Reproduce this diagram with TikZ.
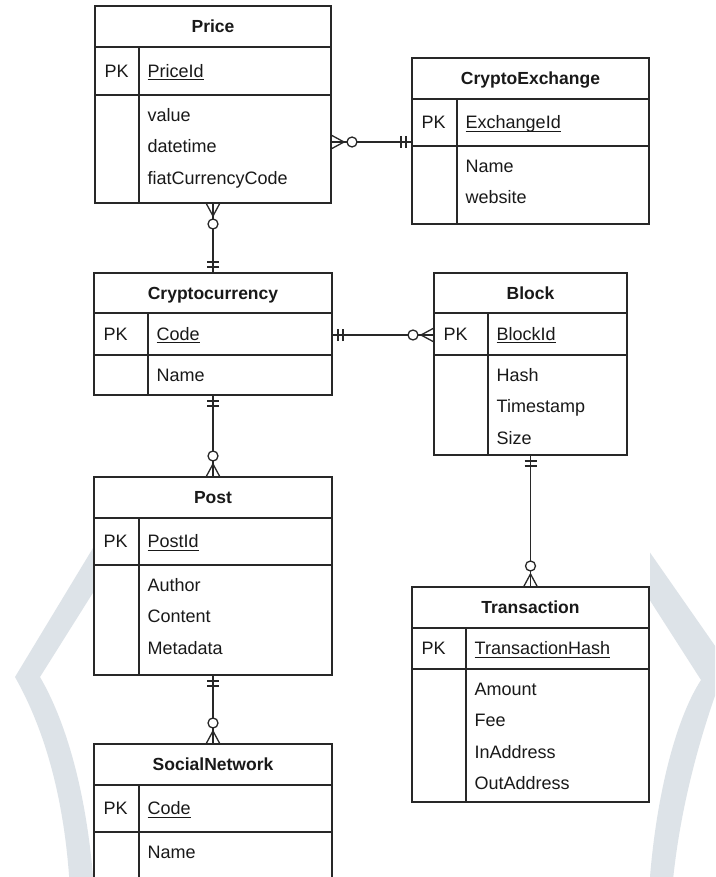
\documentclass[tikz,border=0pt]{standalone}
\usepackage{fontspec}
\setmainfont{Liberation Sans}
\usetikzlibrary{decorations.markings}
\definecolor{wm}{RGB}{221,227,232}
\definecolor{linecol}{RGB}{40,40,40}
\definecolor{textcol}{RGB}{25,25,25}
\newcommand\pkul[1]{\setbox0\hbox{#1}\rlap{\rule[-3pt]{\wd0}{1pt}}\box0}
\newcommand\ertable[9]{%
  \def\curname{#1}\def\curL{#2}\def\curdiv{#8}\def\curpkB{#7}\def\curtB{#6}%
  \pgfmathsetmacro\tw{#4-#2}\pgfmathsetmacro\th{#5-#3}%
  \node[tblbox, anchor=north west, minimum width=\tw pt, minimum height=\th pt] (#1) at (#2,#3) {};
  \draw[tblline] (#1.west |- 0,#6) -- (#1.east |- 0,#6);
  \draw[tblline] (#1.west |- 0,#7) -- (#1.east |- 0,#7);
  \draw[tblline] (#8,#6) -- (#8,#5);
  \node[ttl] (#1-title) at ({(#2+#4)/2},{(#3+#6)/2}) {#9};
}
\newcommand\erfields[2]{%
  \node[txt, anchor=west] (\curname-pk) at ({\curL+9.5},{(\curtB+\curpkB)/2}) {PK};
  \node[txt, anchor=west] (\curname-key) at ({\curdiv+8.5},{(\curtB+\curpkB)/2}) {\pkul{#1}};
  \foreach \a [count=\i from 0] in {#2} {
    \node[txt, anchor=west] (\curname-a\i) at ({\curdiv+8.5},{\curpkB+20+\i*31.5}) {\a};
  }
}
\begin{document}
\begin{tikzpicture}[x=1pt, y=-1pt,
  tblbox/.style={draw=linecol, line width=1.6pt, fill=white, inner sep=0pt, outer sep=0pt},
  tblline/.style={draw=linecol, line width=1.6pt},
  txt/.style={inner sep=0pt, text height=12.8pt, text depth=0pt, font=\fontsize{18}{21}\selectfont, text=textcol},
  ttl/.style={txt, font=\bfseries\fontsize{17.5}{20}\selectfont},
  rel/.style={color=linecol, line width=1.3pt, postaction={decorate}, decoration={markings,
    mark=at position 0.0001 with {\draw[line width=1.3pt] (6pt,-6pt) -- (6pt,6pt) (11pt,-6pt) -- (11pt,6pt);},
    mark=at position 0.9999 with {\draw[line width=1.3pt] (-13pt,0pt) -- (0pt,7pt) (-13pt,0pt) -- (0pt,-7pt); \draw[line width=1.3pt, fill=white] (-21pt,0pt) circle (5pt);}}}
]
\useasboundingbox (0,0) rectangle (715,877);
\clip (0,0) rectangle (715,877);
\fill[white] (0,0) rectangle (715,877);
% watermark chevrons
\begin{scope}
\clip (0,0) rectangle (94,877);
\fill[wm] (116,510) -- (15,677) .. controls (45,730) and (65,800) .. (70,890) -- (94,890) .. controls (88,800) and (68,725) .. (40,677) -- (145,510) -- cycle;
\end{scope}
\begin{scope}
\clip (650,0) rectangle (715,877);
\fill[wm] (620.3,510) -- (727,663) .. controls (705,720) and (680,800) .. (672,890) -- (649,890) .. controls (655,800) and (675,720) .. (701,680) -- (592,510) -- cycle;
\end{scope}
% tables
\ertable{price}{95}{6}{331}{203}{47}{95}{139}{Price}
\erfields{PriceId}{value,datetime,fiatCurrencyCode}
\ertable{exch}{412}{58}{649}{224}{99}{146}{457}{CryptoExchange}
\erfields{ExchangeId}{Name,website}
\ertable{crypto}{94}{273}{332}{395}{313}{355}{148}{Cryptocurrency}
\erfields{Code}{Name}
\ertable{block}{434}{273}{627}{455}{313}{355}{488}{Block}
\erfields{BlockId}{Hash,Timestamp,Size}
\ertable{post}{94}{477}{332}{675}{518}{565}{139}{Post}
\erfields{PostId}{Author,Content,Metadata}
\ertable{trans}{412}{587}{649}{802}{628}{669}{466}{Transaction}
\erfields{TransactionHash}{Amount,Fee,InAddress,OutAddress}
\ertable{social}{94}{744}{332}{900}{785}{832}{139}{SocialNetwork}
\erfields{Code}{Name}
% relationships (one side first, many side last)
\draw[rel] (exch.west |- 0,142) -- (price.east |- 0,142);
\draw[rel] (crypto.north) -- (price.south);
\draw[rel] (crypto.east |- 0,335) -- (block.west |- 0,335);
\draw[rel] (block.south) -- (trans.north);
\draw[rel] (crypto.south) -- (post.north);
\draw[rel] (post.south) -- (social.north);
\end{tikzpicture}
\end{document}
